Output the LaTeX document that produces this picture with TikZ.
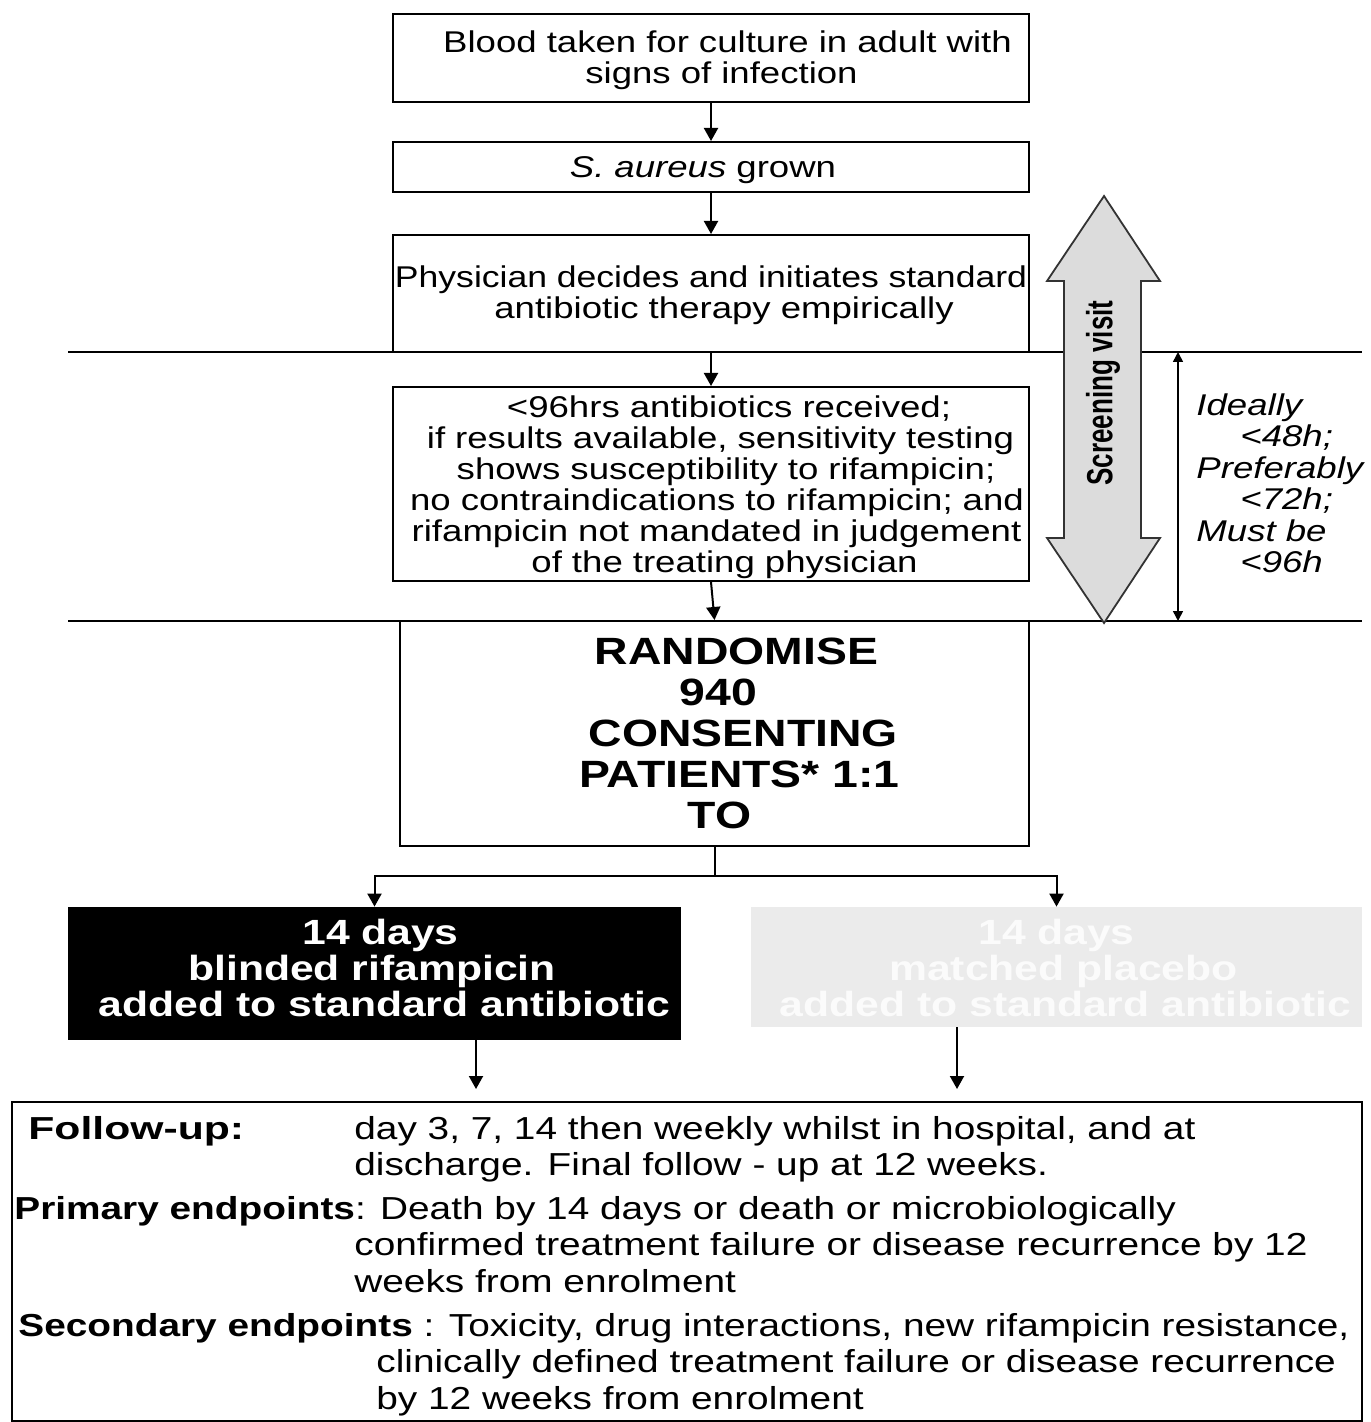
\documentclass[tikz,border=0pt]{standalone}
\usepackage{fontspec}
\setmainfont{Liberation Sans}[FakeStretch=1.22]
\newfontfamily\svfont{Liberation Sans}
\usetikzlibrary{arrows.meta}
\definecolor{placebo}{HTML}{EBEBEB}
\definecolor{placebotext}{HTML}{FBFBFB}
\definecolor{bigarrow}{HTML}{DCDCDC}
\newcommand\boxfont{\fontsize{15pt}{15.5pt}\selectfont}
\newcommand\rndfont{\fontsize{19pt}{20.5pt}\selectfont\bfseries}
\newcommand\armfont{\fontsize{17.5pt}{18pt}\selectfont\bfseries}
\newcommand\fufont{\fontsize{15.9pt}{18pt}\selectfont}
\begin{document}
\begin{tikzpicture}[x=0.5pt,y=-0.5pt,
  box/.style={draw, line width=1pt, inner sep=0pt},
  label/.style={inner sep=0pt, align=center, text width=340pt, font=\boxfont},
  arr/.style={line width=1pt, -{Triangle[length=6.5pt,width=7pt]}},
  txt/.style={inner sep=0pt, anchor=base west, font=\fufont}]
\useasboundingbox (0,0) rectangle (1370,1422);

% separator lines
\coordinate (l1a) at (68,352);
\coordinate (l1b) at (1362,352);
\coordinate (l2a) at (68,621);
\coordinate (l2b) at (1362,621);
\draw[line width=0.8pt] (l1a) -- (l1b);
\draw[line width=0.8pt] (l2a) -- (l2b);

% boxes
\node[box, minimum width=318pt, minimum height=44pt] (b1) at (711,58) {};
\node[label] (b1t) at (711,60)
  {\hspace*{16.5pt}Blood taken for culture in adult with\\\hspace*{10.5pt}signs of infection};
\node[box, minimum width=318pt, minimum height=25pt] (b2) at (711,167) {};
\node[label] (b2t) at (711,170) {\hspace*{-8pt}\textit{S. aureus} grown};
\node[box, minimum width=318pt, minimum height=58.5pt] (b3) at (711,293.5) {};
\node[label] (b3t) at (711,295)
  {\scalebox{0.972}[1]{Physician decides and initiates standard}\\\hspace*{13pt}antibiotic therapy empirically};
\node[box, minimum width=318pt, minimum height=97pt] (b4) at (711,484) {};
\node[label] (b4t) at (711,487)
  {\hspace*{18pt}<96hrs antibiotics received;\\
   \hspace*{9.5pt}if results available, sensitivity testing\\
   \hspace*{15pt}shows susceptibility to rifampicin;\\
   \hspace*{6pt}no contraindications to rifampicin; and\\
   \hspace*{5.5pt}rifampicin not mandated in judgement\\
   \hspace*{13.5pt}of the treating physician};
\node[box, minimum width=314.5pt, minimum height=112.5pt, text width=300pt, align=center, font=\rndfont] (rnd) at (714.5,733.5)
  {\hspace*{22pt}RANDOMISE\\
   \hspace*{4pt}940\\
   \hspace*{29pt}CONSENTING\\
   \hspace*{25pt}PATIENTS* 1:1\\
   \hspace*{5pt}TO};

\node[fill=black, inner sep=0pt, minimum width=306.5pt, minimum height=66.5pt] (blk) at (374.5,973.5) {};
\node[label, text=white, font=\armfont] (blkt) at (374.5,967.5)
  {\hspace*{6pt}14 days\\\hspace*{-2.5pt}blinded rifampicin\\\hspace*{10pt}added to standard antibiotic};
\node[fill=placebo, inner sep=0pt, minimum width=305.5pt, minimum height=60pt] (gry) at (1056.5,967) {};
\node[label, text=placebotext, font=\armfont] (gryt) at (1056.5,967.5)
  {14 days\\\hspace*{7pt}matched placebo\\\hspace*{9pt}added to standard antibiotic};

\node[draw, line width=1pt, minimum width=675pt, minimum height=159.5pt, inner sep=0pt] (fu) at (687,1261.5) {};

% connectors
\draw[arr] (b1.south) -- (b2.north);
\draw[arr] (b2.south) -- (b3.north);
\draw[arr] (b3.south) -- (b4.north);
\draw[arr] (b4.south) -- (rnd.north);
\coordinate (split) at (714.5,876);
\draw[line width=1pt] (rnd.south) -- (split);
\draw[arr] (split) -| (blk.north);
\draw[arr] (split) -| (gry.north);
\coordinate (c1) at (476,0);
\coordinate (c2) at (957,0);
\draw[arr, shorten >=6pt] (blk.south -| c1) -- (fu.north -| c1);
\draw[arr, shorten >=6pt] (gry.south -| c2) -- (fu.north -| c2);

% screening visit arrow
\draw[fill=bigarrow, draw=black!80, line width=0.9pt]
  (1104,196) -- (1160,281) -- (1141,281) -- (1141,538) -- (1160,538) -- (1104,623)
  -- (1047,538) -- (1064,538) -- (1064,281) -- (1047,281) -- cycle;
\node[rotate=90, inner sep=0pt] (sv) at (1103,393)
  {\scalebox{1}[1.4]{\svfont\bfseries\fontsize{13pt}{13pt}\selectfont Screening visit}};

% timing arrow
\coordinate (t1) at (1178,352);
\coordinate (t2) at (1178,621);
\draw[line width=0.8pt, {Triangle[length=5pt,width=5pt]}-{Triangle[length=5pt,width=5pt]}] (t1) -- (t2);
\node[inner sep=0pt, anchor=north west, align=left, font=\fontsize{15pt}{15.75pt}\selectfont\itshape] (tm) at (1196,393)
  {Ideally\\ \hspace*{22pt}<48h;\\Preferably\\ \hspace*{22pt}<72h;\\Must be\\ \hspace*{22pt}<96h};

% follow-up text
\node[txt] (f1) at (28,1139) {\scalebox{1.1}[1]{\textbf{Follow-up:}}};
\node[txt] (f2) at (354,1139) {day 3, 7, 14 then weekly whilst in hospital, and at};
\node[txt] (f3) at (354,1175) {discharge. Final follow - up at 12 weeks.};
\node[txt] (p1) at (14,1219) {\textbf{Primary endpoints}: Death by 14 days or death or microbiologically};
\node[txt] (p2) at (354,1255) {confirmed treatment failure or disease recurrence by 12};
\node[txt] (p3) at (354,1292) {weeks from enrolment};
\node[txt] (s1) at (18,1336) {\textbf{Secondary endpoints} : Toxicity, drug interactions, new rifampicin resistance,};
\node[txt] (s2) at (376,1372) {clinically defined treatment failure or disease recurrence};
\node[txt] (s3) at (376,1409) {by 12 weeks from enrolment};
\end{tikzpicture}
\end{document}
